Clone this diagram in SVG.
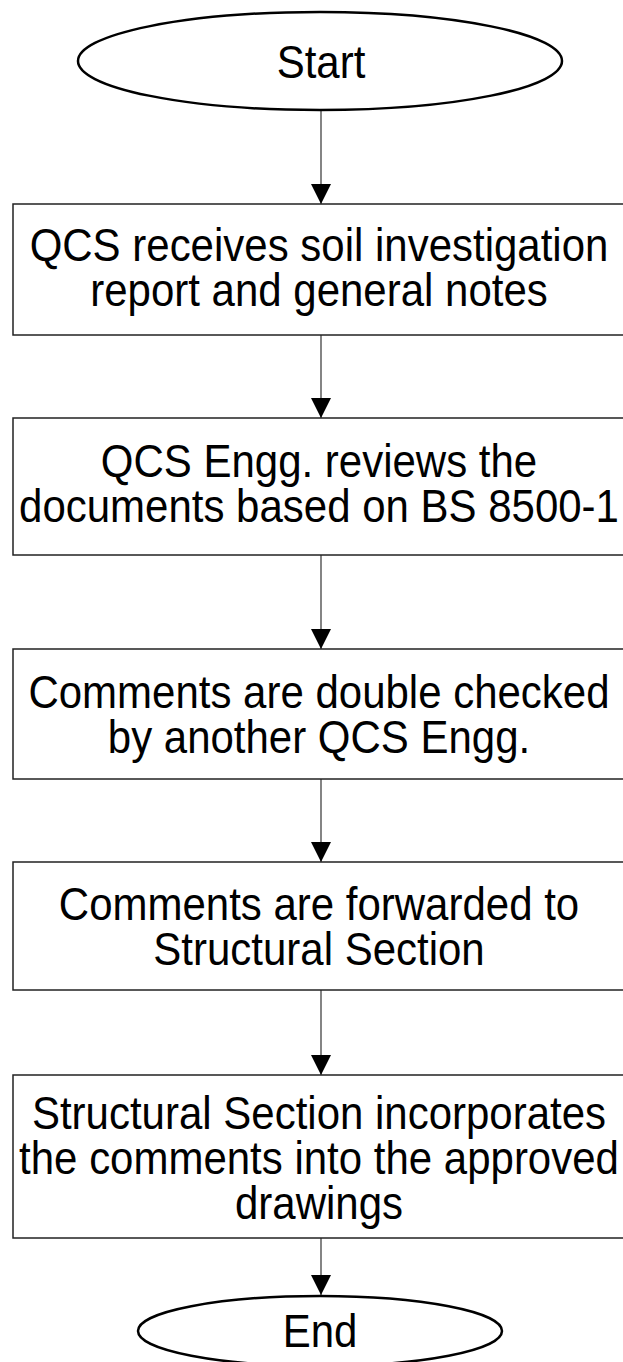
<svg xmlns="http://www.w3.org/2000/svg" width="623" height="1362" viewBox="0 0 623 1362">
  <style>
    .term { fill: #ffffff; stroke: #000000; stroke-width: 2.5; }
    .step { fill: #ffffff; stroke: #222222; stroke-width: 1.5; }
    .flow { fill: none; stroke: #333333; stroke-width: 1.2; marker-end: url(#head); }
    text { font-family: "Liberation Sans", Arial, sans-serif; font-size: 46px; fill: #000000; text-anchor: middle; }
  </style>
  <defs>
    <marker id="head" markerUnits="userSpaceOnUse" markerWidth="20" markerHeight="20" viewBox="0 0 20 20" refX="20" refY="10" orient="auto">
      <path d="M0,0 L20,10 L0,20 Z" fill="#000000"/>
    </marker>
  </defs>

  <!-- connectors -->
  <g id="connectors">
    <line class="flow" x1="321" y1="110" x2="321" y2="204"/>
    <line class="flow" x1="321" y1="335" x2="321" y2="418"/>
    <line class="flow" x1="321" y1="555" x2="321" y2="649"/>
    <line class="flow" x1="321" y1="779" x2="321" y2="862"/>
    <line class="flow" x1="321" y1="990" x2="321" y2="1075"/>
    <line class="flow" x1="321" y1="1238" x2="321" y2="1295"/>
  </g>

  <!-- labels are set in a slightly condensed face: scale x by 0.913 around the column centre -->
  <g id="start">
    <ellipse class="term" cx="320" cy="61" rx="242" ry="49"/>
    <text transform="translate(321 0) scale(0.913 1)" x="0" y="78">Start</text>
  </g>

  <g id="receive">
    <rect class="step" x="13" y="204" width="640" height="131"/>
    <g transform="translate(319 0) scale(0.913 1)">
      <text x="0" y="261">QCS receives soil investigation</text>
      <text x="0" y="306">report and general notes</text>
    </g>
  </g>

  <g id="review">
    <rect class="step" x="13" y="418" width="640" height="137"/>
    <g transform="translate(319 0) scale(0.913 1)">
      <text x="0" y="477">QCS Engg. reviews the</text>
      <text x="0" y="522">documents based on BS 8500-1</text>
    </g>
  </g>

  <g id="doublecheck">
    <rect class="step" x="13" y="649" width="640" height="130"/>
    <g transform="translate(319 0) scale(0.913 1)">
      <text x="0" y="708">Comments are double checked</text>
      <text x="0" y="753">by another QCS Engg.</text>
    </g>
  </g>

  <g id="forward">
    <rect class="step" x="13" y="862" width="640" height="128"/>
    <g transform="translate(319 0) scale(0.913 1)">
      <text x="0" y="920">Comments are forwarded to</text>
      <text x="0" y="965">Structural Section</text>
    </g>
  </g>

  <g id="incorporate">
    <rect class="step" x="13" y="1075" width="640" height="163"/>
    <g transform="translate(319 0) scale(0.913 1)">
      <text x="0" y="1129">Structural Section incorporates</text>
      <text x="0" y="1174">the comments into the approved</text>
      <text x="0" y="1219">drawings</text>
    </g>
  </g>

  <g id="end">
    <ellipse class="term" cx="320" cy="1331" rx="182" ry="35"/>
    <text transform="translate(320 0) scale(0.913 1)" x="0" y="1347">End</text>
  </g>
</svg>
